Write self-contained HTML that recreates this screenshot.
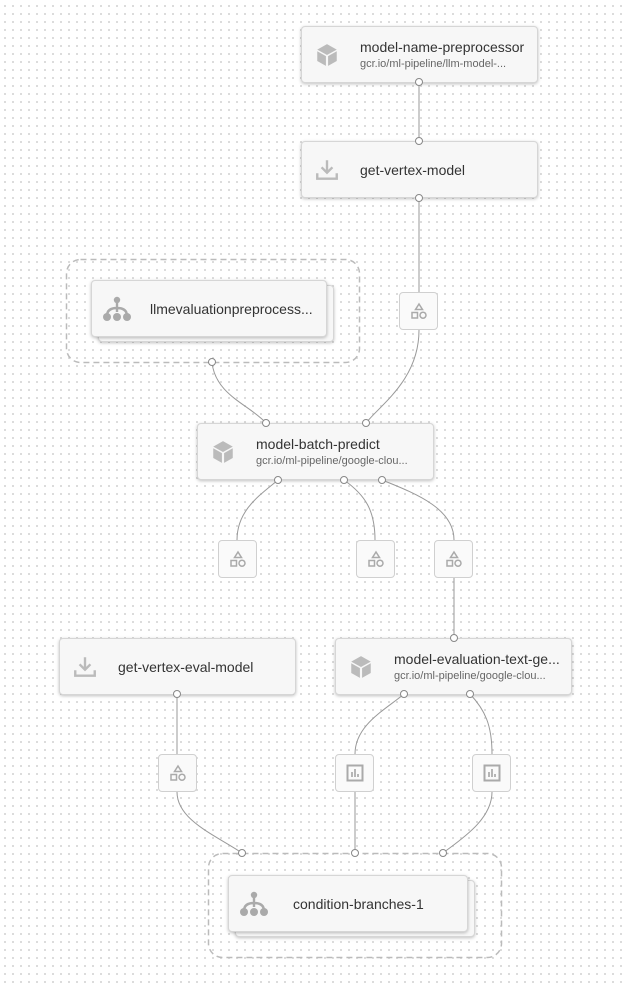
<!DOCTYPE html>
<html><head><meta charset="utf-8"><style>
body{margin:0;width:627px;height:984px;overflow:hidden;font-family:"Liberation Sans",Roboto,sans-serif;
background-color:#fff;background-image:radial-gradient(circle,#d9d9d9 1px,transparent 1.2px);background-size:8px 8px;background-position:1px 2px;position:relative}
.n{position:absolute;background:#f7f7f7;border:1px solid #d6d6d6;border-radius:4px;box-shadow:0 1px 3px rgba(0,0,0,.25);box-sizing:border-box}
.t{position:absolute;left:58px;font-size:14px;color:#333;font-weight:500;white-space:nowrap}
.s{position:absolute;left:58px;font-size:11px;color:#666;white-space:nowrap}
.ic{position:absolute;left:12px;top:15px}
.a{position:absolute;width:39px;height:38px;background:#fafafa;border:1px solid #d0d0d0;border-radius:4px;box-sizing:border-box}
.a svg{position:absolute;left:9px;top:8px}
svg.ov{position:absolute;left:0;top:0}
</style></head><body>
<svg width="0" height="0" style="position:absolute"><defs>
<symbol id="cube" viewBox="0 0 24 24"><path d="M12 2 L21 7 L12 12 L3 7Z M3 8.5 L11 13 L11 22 L3 17.5Z M13 13 L21 8.5 L21 17.5 L13 22Z" fill="#bbb"/></symbol>
<symbol id="dl" viewBox="0 0 24 24"><path d="M12 3v11M7 9.5l5 5 5-5M3 15v5h18v-5" stroke="#bbb" stroke-width="2.2" fill="none"/></symbol>
<symbol id="tree" viewBox="0 0 30 26"><circle cx="15" cy="4" r="3.2" fill="#aaa"/><path d="M15 4v12M15 12 Q5 12 5 20M15 12 Q25 12 25 20" stroke="#aaa" stroke-width="2.4" fill="none"/><circle cx="5" cy="21" r="4" fill="#aaa"/><circle cx="15" cy="21" r="4" fill="#aaa"/><circle cx="25" cy="21" r="4" fill="#aaa"/></symbol>
<symbol id="shp" viewBox="0 0 20 20"><path d="M10 3 L13.5 8.5 L6.5 8.5Z" fill="none" stroke="#aaa" stroke-width="1.5"/><rect x="3" y="11.5" width="5.5" height="5.5" fill="none" stroke="#aaa" stroke-width="1.5"/><circle cx="14" cy="14.2" r="3" fill="none" stroke="#aaa" stroke-width="1.5"/></symbol>
<symbol id="bar" viewBox="0 0 20 20"><rect x="2.5" y="2.5" width="15" height="15" fill="none" stroke="#aaa" stroke-width="2"/><path d="M7 14V9M10 14V6M13 14V11" stroke="#aaa" stroke-width="1.7"/></symbol>
</defs></svg>

<svg class="ov" width="627" height="984" fill="none" stroke="#bbb" stroke-width="1.5" stroke-dasharray="6 4">
<rect x="66.5" y="259.5" width="293" height="103" rx="14"/>
<rect x="208.5" y="853.5" width="293" height="104" rx="14"/>
</svg>

<div class="n" style="left:301px;top:26px;width:237px;height:57px"><svg class="ic" width="26" height="28" style="top:14px"><use href="#cube"/></svg><div class="t" style="top:12px">model-name-preprocessor</div><div class="s" style="top:31px">gcr.io/ml-pipeline/llm-model-...</div></div>
<div class="n" style="left:301px;top:141px;width:237px;height:57px"><svg class="ic" width="26" height="26"><use href="#dl"/></svg><div class="t" style="top:20px">get-vertex-model</div></div>

<div class="n" style="left:98px;top:285px;width:236px;height:57px"></div>
<div class="n" style="left:91px;top:280px;width:236px;height:57px"><svg class="ic" width="30" height="26" style="left:10px;top:15px"><use href="#tree"/></svg><div class="t" style="top:20px">llmevaluationpreprocess...</div></div>

<div class="n" style="left:197px;top:423px;width:237px;height:57px"><svg class="ic" width="26" height="28" style="top:14px"><use href="#cube"/></svg><div class="t" style="top:12px">model-batch-predict</div><div class="s" style="top:31px">gcr.io/ml-pipeline/google-clou...</div></div>

<div class="n" style="left:59px;top:638px;width:237px;height:57px"><svg class="ic" width="26" height="26"><use href="#dl"/></svg><div class="t" style="top:20px">get-vertex-eval-model</div></div>
<div class="n" style="left:335px;top:638px;width:237px;height:57px"><svg class="ic" width="26" height="28" style="top:14px"><use href="#cube"/></svg><div class="t" style="top:12px">model-evaluation-text-ge...</div><div class="s" style="top:31px">gcr.io/ml-pipeline/google-clou...</div></div>

<div class="n" style="left:235px;top:880px;width:240px;height:57px"></div>
<div class="n" style="left:228px;top:875px;width:240px;height:57px"><svg class="ic" width="30" height="26" style="left:10px;top:15px"><use href="#tree"/></svg><div class="t" style="left:64px;top:20px">condition-branches-1</div></div>

<div class="a" style="left:399px;top:292px"><svg width="20" height="20"><use href="#shp"/></svg></div>
<div class="a" style="left:218px;top:540px"><svg width="20" height="20"><use href="#shp"/></svg></div>
<div class="a" style="left:356px;top:540px"><svg width="20" height="20"><use href="#shp"/></svg></div>
<div class="a" style="left:434px;top:540px"><svg width="20" height="20"><use href="#shp"/></svg></div>
<div class="a" style="left:158px;top:754px"><svg width="20" height="20"><use href="#shp"/></svg></div>
<div class="a" style="left:335px;top:754px"><svg width="20" height="20"><use href="#bar"/></svg></div>
<div class="a" style="left:472px;top:754px"><svg width="20" height="20"><use href="#bar"/></svg></div>

<svg class="ov" width="627" height="984" fill="none" stroke="#999" stroke-width="1">
<path d="M419 82V141M419 198V292M419 330C419 380 380 405 366 423M212 362C215 395 250 405 266 423"/>
<path d="M278 480C260 495 237 510 237 540M344 480C365 495 375 510 375 540M382 480C420 495 454 510 454 540M454 578V638"/>
<path d="M177 694V754M177 792C177 820 215 835 242 853M404 694C385 710 355 725 355 754M355 792V853M470 694C485 710 492 725 492 754M492 792C492 820 460 840 443 853"/>
<g fill="#fff" stroke="#888">
<circle cx="419" cy="82" r="3.5"/><circle cx="419" cy="141" r="3.5"/><circle cx="419" cy="198" r="3.5"/>
<circle cx="212" cy="362" r="3.5"/><circle cx="266" cy="423" r="3.5"/><circle cx="366" cy="423" r="3.5"/>
<circle cx="278" cy="480" r="3.5"/><circle cx="344" cy="480" r="3.5"/><circle cx="382" cy="480" r="3.5"/>
<circle cx="454" cy="638" r="3.5"/><circle cx="177" cy="694" r="3.5"/><circle cx="404" cy="694" r="3.5"/><circle cx="470" cy="694" r="3.5"/>
<circle cx="242" cy="853" r="3.5"/><circle cx="355" cy="853" r="3.5"/><circle cx="443" cy="853" r="3.5"/>
</g></svg>
</body></html>
